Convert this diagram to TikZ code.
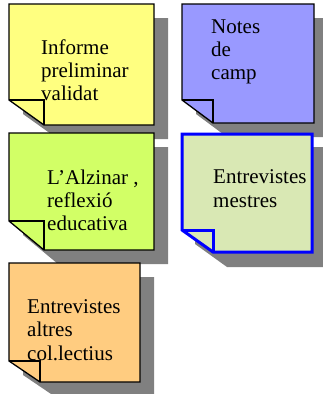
\documentclass[tikz,border=0pt]{standalone}
\usepackage{fontspec}
\setmainfont{Liberation Serif}
\definecolor{shadowgray}{HTML}{808080}
\definecolor{noteyellow}{HTML}{FFFF80}
\definecolor{noteblue}{HTML}{9999FF}
\definecolor{notelime}{HTML}{D2FF66}
\definecolor{notegreen}{HTML}{D9E8B4}
\definecolor{noteorange}{HTML}{FFCC80}
\newcommand\noteshadow[6]{%
  \fill[shadowgray, shift={(14,14)}] (#1,#2) -- (#3,#2) -- (#3,#4) -- (#5,#4) -- (#1,#6) -- cycle;}
\newcommand\notebody[8]{%
  \filldraw[fill=#7, #8, line join=miter] (#1,#2) -- (#3,#2) -- (#3,#4) -- (#5,#4) -- (#1,#6) -- cycle;
  \draw[#8] (#1,#6) -- (#5,#6) -- (#5,#4);}
\tikzset{
  txt/.style={anchor=base west, inner sep=0pt, font=\fontsize{21}{24}\selectfont},
  blackedge/.style={draw=black, line width=1.3pt},
  blueedge/.style={draw=blue, line width=3pt}
}
\begin{document}
\begin{tikzpicture}[x=1pt, y=-1pt]
\useasboundingbox (0,0) rectangle (323,394);
\clip (0,0) rectangle (323,394);
% shadows
\noteshadow{9}{4}{154}{125}{44}{100}
\noteshadow{182}{4}{314}{123}{213}{100}
\noteshadow{9}{133}{154}{250}{44}{221}
\noteshadow{181}{133}{313}{253}{213}{230}
\noteshadow{9}{263}{140}{382}{40}{361}
% notes
\notebody{9}{4}{154}{125}{44}{100}{noteyellow}{blackedge}
\notebody{182}{4}{314}{123}{213}{100}{noteblue}{blackedge}
\notebody{9}{133}{154}{250}{44}{221}{notelime}{blackedge}
\notebody{182}{134}{312}{252}{213}{230}{notegreen}{blueedge}
\notebody{9}{263}{140}{382}{40}{361}{noteorange}{blackedge}
% texts
\node[txt] (a1) at (41,54) {Informe};
\node[txt] (a2) at (41,77) {preliminar};
\node[txt] (a3) at (41,100) {validat};
\node[txt] (b1) at (211,33) {Notes};
\node[txt] (b2) at (211,56) {de};
\node[txt] (b3) at (211,79) {camp};
\node[txt] (c1) at (47,184) {L’Alzinar ,};
\node[txt] (c2) at (47,207) {reflexió};
\node[txt] (c3) at (47,230) {educativa};
\node[txt] (d1) at (213,183) {Entrevistes};
\node[txt] (d2) at (213,207) {mestres};
\node[txt] (e1) at (27,313) {Entrevistes};
\node[txt] (e2) at (27,336) {altres};
\node[txt] (e3) at (27,360) {col.lectius};
\end{tikzpicture}
\end{document}
